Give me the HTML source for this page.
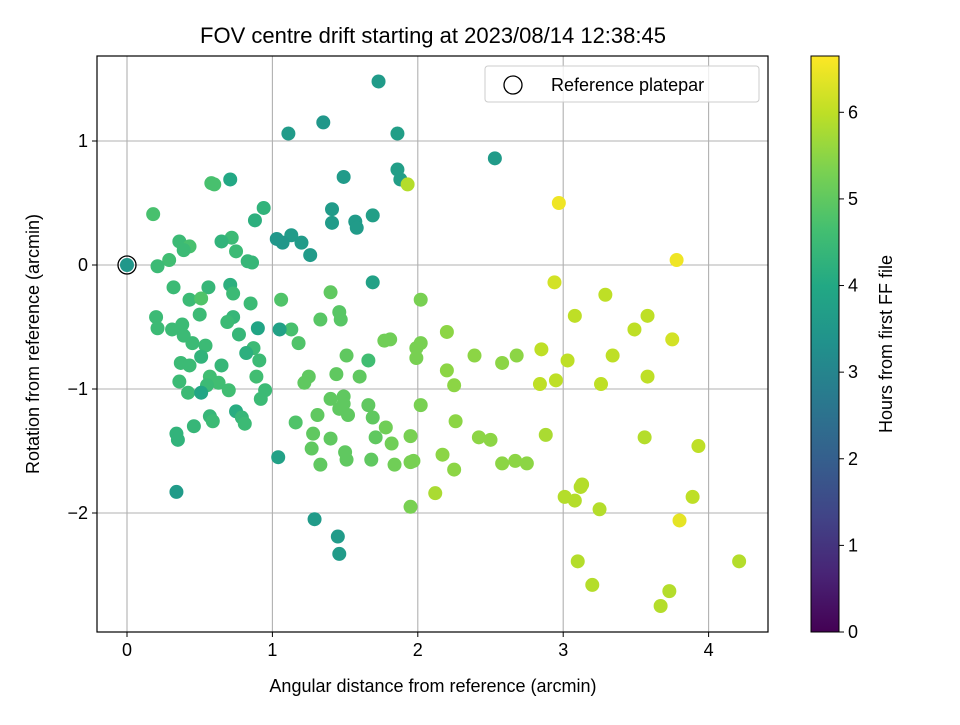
<!DOCTYPE html>
<html><head><meta charset="utf-8"><style>
body{margin:0;background:#fff;width:960px;height:720px;overflow:hidden}
svg{font-family:"Liberation Sans","DejaVu Sans",sans-serif}
</style></head><body>
<svg id="chart" width="960" height="720" xmlns="http://www.w3.org/2000/svg">
<rect width="960" height="720" fill="#fff"/>
<text x="433" y="43" font-size="22" text-anchor="middle" fill="#000">FOV centre drift starting at 2023/08/14 12:38:45</text>
<g id="grid"></g>
<g id="points"></g>
<rect x="97" y="56" width="671" height="576" fill="none" stroke="#000" stroke-width="1.2"/>
<g id="xticks"></g><g id="yticks"></g>
<text x="433" y="692" font-size="18" text-anchor="middle">Angular distance from reference (arcmin)</text>
<text transform="translate(39,344) rotate(-90)" font-size="18" text-anchor="middle">Rotation from reference (arcmin)</text>
<g>
<rect x="485" y="66" width="274" height="36" rx="3" fill="#fff" fill-opacity="0.8" stroke="#ccc"/>
<circle cx="513" cy="85" r="9" fill="none" stroke="#000" stroke-width="1.3"/>
<text x="551" y="91" font-size="18">Reference platepar</text>
</g>
<defs><linearGradient id="vir" x1="0" y1="1" x2="0" y2="0">
<stop offset="0" stop-color="#440154"/><stop offset="0.1" stop-color="#482475"/><stop offset="0.2" stop-color="#414487"/><stop offset="0.3" stop-color="#355f8d"/><stop offset="0.4" stop-color="#2a788e"/><stop offset="0.5" stop-color="#21918c"/><stop offset="0.6" stop-color="#22a884"/><stop offset="0.7" stop-color="#44bf70"/><stop offset="0.8" stop-color="#7ad151"/><stop offset="0.9" stop-color="#bddf26"/><stop offset="1" stop-color="#fde725"/>
</linearGradient></defs>
<rect x="811" y="56" width="28" height="576" fill="url(#vir)" stroke="#000" stroke-width="1"/>
<g id="cticks"></g>
<text transform="translate(892,344) rotate(-90)" font-size="18" text-anchor="middle">Hours from first FF file</text>
</svg>
<script>
const xVals=[0,1.73,1.35,1.11,1.86,2.53,1.86,1.88,1.93,1.49,0.71,0.58,0.60,2.97,1.41,0.94,0.88,1.57,1.58,1.69,1.41,1.13,1.03,1.07,1.20,1.26,0.18,0.72,0.65,0.36,0.43,0.39,0.75,0.83,0.86,0.29,0.21,3.78,1.69,2.94,0.71,0.32,0.56,0.73,1.40,3.29,2.02,1.06,0.43,0.51,0.85,1.46,1.47,1.33,3.08,3.58,0.50,0.20,0.73,0.69,0.38,0.21,0.90,1.13,1.05,2.20,3.49,0.31,0.39,0.77,1.18,1.77,1.81,2.02,3.75,0.54,0.45,0.87,1.99,2.85,2.68,2.39,3.34,1.51,0.82,0.51,1.99,3.03,1.66,0.91,2.58,0.37,0.65,0.43,2.20,1.60,3.58,0.57,0.89,1.25,1.44,2.95,1.22,0.36,2.25,2.84,3.26,0.63,0.55,0.70,0.95,0.42,0.51,1.49,0.92,1.40,1.49,2.02,1.66,1.46,1.52,0.75,0.57,0.79,0.59,1.69,1.31,2.26,0.81,1.16,1.78,0.46,0.34,1.28,2.88,0.35,3.56,2.42,1.40,1.71,1.95,2.50,1.82,3.93,1.27,1.50,2.17,1.51,1.68,1.97,1.04,1.33,1.84,2.58,2.67,2.75,1.95,2.25,3.13,3.12,2.12,0.34,3.01,3.08,3.89,1.95,3.25,3.80,1.29,1.45,1.46,3.10,4.21,3.20,3.73,3.67];
const yVals=[0,1.48,1.15,1.06,1.06,0.86,0.77,0.69,0.65,0.71,0.69,0.66,0.65,0.50,0.45,0.46,0.36,0.35,0.30,0.40,0.34,0.24,0.21,0.18,0.18,0.08,0.41,0.22,0.19,0.19,0.15,0.12,0.11,0.03,0.02,0.04,-0.01,0.04,-0.14,-0.14,-0.16,-0.18,-0.18,-0.23,-0.22,-0.24,-0.28,-0.28,-0.28,-0.27,-0.31,-0.38,-0.44,-0.44,-0.41,-0.41,-0.40,-0.42,-0.42,-0.46,-0.48,-0.51,-0.51,-0.52,-0.52,-0.54,-0.52,-0.52,-0.57,-0.56,-0.63,-0.61,-0.60,-0.63,-0.60,-0.65,-0.63,-0.67,-0.67,-0.68,-0.73,-0.73,-0.73,-0.73,-0.71,-0.74,-0.75,-0.77,-0.77,-0.77,-0.79,-0.79,-0.81,-0.81,-0.85,-0.90,-0.90,-0.90,-0.90,-0.90,-0.88,-0.93,-0.95,-0.94,-0.97,-0.96,-0.96,-0.95,-0.97,-1.01,-1.01,-1.03,-1.03,-1.06,-1.08,-1.08,-1.12,-1.13,-1.13,-1.16,-1.21,-1.18,-1.22,-1.23,-1.26,-1.23,-1.21,-1.26,-1.28,-1.27,-1.31,-1.30,-1.36,-1.36,-1.37,-1.41,-1.39,-1.39,-1.40,-1.39,-1.38,-1.41,-1.44,-1.46,-1.48,-1.51,-1.53,-1.57,-1.57,-1.58,-1.55,-1.61,-1.61,-1.60,-1.58,-1.60,-1.59,-1.65,-1.77,-1.79,-1.84,-1.83,-1.87,-1.90,-1.87,-1.95,-1.97,-2.06,-2.05,-2.19,-2.33,-2.39,-2.39,-2.58,-2.63,-2.75];
const hours=[3.5,3.6,3.5,3.6,3.7,3.6,3.7,3.7,5.9,3.6,4.0,4.7,4.7,6.5,3.6,4.3,4.2,3.6,3.6,3.7,3.6,3.6,3.5,3.5,3.6,3.6,4.7,4.5,4.3,4.5,4.7,4.5,4.5,4.4,4.4,4.6,4.5,6.5,3.8,6.2,4.2,4.5,4.4,4.5,5.0,6.0,5.3,4.8,4.5,4.8,4.5,4.9,4.9,4.9,6.0,6.0,4.5,4.5,4.4,4.5,4.5,4.5,3.9,4.7,3.8,5.5,6.0,4.5,4.5,4.4,4.8,5.2,5.2,5.3,6.2,4.5,4.5,4.5,5.3,6.0,5.5,5.5,6.0,5.0,4.2,4.3,5.3,6.0,4.6,4.5,5.5,4.5,4.4,4.5,5.5,5.0,6.0,4.6,4.6,5.0,5.0,6.0,5.0,4.5,5.5,6.0,6.0,4.6,4.5,4.6,4.5,4.5,3.9,5.0,4.5,5.0,5.0,5.3,5.0,5.0,5.0,4.1,4.4,4.4,4.5,5.0,5.0,5.5,4.5,4.8,5.2,4.4,4.3,5.0,5.8,4.3,5.9,5.5,5.0,5.0,5.3,5.5,5.2,6.0,5.0,5.0,5.5,5.0,5.0,5.3,3.8,5.0,5.2,5.5,5.5,5.5,5.3,5.5,5.9,5.9,5.8,3.6,5.9,5.9,6.0,5.3,5.9,6.4,3.6,3.6,3.6,5.9,5.9,5.9,5.9,5.9];
const xTickVals=[0,1,2,3,4];
const yTickVals=[1,0,-1,-2];
const yTickLabels=["1","0","\u22122","\u22122"];
yTickLabels[2]="\u22121";
const cTickVals=[0,1,2,3,4,5,6];
const HMAX=6.65;
const NS="http://www.w3.org/2000/svg";
const X=v=>127+v*145.4, Y=v=>265-v*124, C=v=>632-v*(576/HMAX);
const stops=["#440154","#482475","#414487","#355f8d","#2a788e","#21918c","#22a884","#44bf70","#7ad151","#bddf26","#fde725"];
function hx(c){return [1,3,5].map(i=>parseInt(c.substr(i,2),16));}
function vir(t){t=Math.max(0,Math.min(1,t));const f=t*10,i=Math.min(9,Math.floor(f)),r=f-i;const a=hx(stops[i]),b=hx(stops[i+1]);return "rgb("+a.map((v,k)=>Math.round(v+(b[k]-v)*r)).join(",")+")";}
function mk(tag,at,parent){const e=document.createElementNS(NS,tag);for(const k in at)e.setAttribute(k,at[k]);parent.appendChild(e);return e;}
const grid=document.getElementById('grid'),pts=document.getElementById('points');
const xt=document.getElementById('xticks'),yt=document.getElementById('yticks'),ct=document.getElementById('cticks');
xTickVals.forEach(v=>{
 const g=mk('line',{x1:X(v),x2:X(v),y1:56,y2:632,stroke:'#b0b0b0','stroke-width':1.1},grid);
 
 
 mk('line',{x1:X(v),x2:X(v),y1:632,y2:637,stroke:'#000'},xt);
 const t=mk('text',{x:X(v),y:656,'font-size':18,'text-anchor':'middle'},xt);t.textContent=String(v);
 
 
});
yTickVals.forEach((v,i)=>{
 const g=mk('line',{x1:97,x2:768,y1:Y(v),y2:Y(v),stroke:'#b0b0b0','stroke-width':1.1},grid);
 
 
 mk('line',{x1:92,x2:97,y1:Y(v),y2:Y(v),stroke:'#000'},yt);
 const t=mk('text',{x:88,y:Y(v)+6,'font-size':18,'text-anchor':'end'},yt);t.textContent=yTickLabels[i];
 
 
});
cTickVals.forEach(v=>{
 mk('line',{x1:839,x2:844,y1:C(v),y2:C(v),stroke:'#000'},ct);
 const t=mk('text',{x:848,y:C(v)+6,'font-size':18},ct);t.textContent=String(v);
 
 
});
xVals.forEach((x,i)=>{
 const c=mk('circle',{cx:X(x),cy:Y(yVals[i]),r:7,fill:vir(hours[i]/HMAX)},pts);
 
 
});
const ref=mk('circle',{cx:X(0),cy:Y(0),r:9,fill:'none',stroke:'#000','stroke-width':1.3},pts);


</script>
</body></html>
